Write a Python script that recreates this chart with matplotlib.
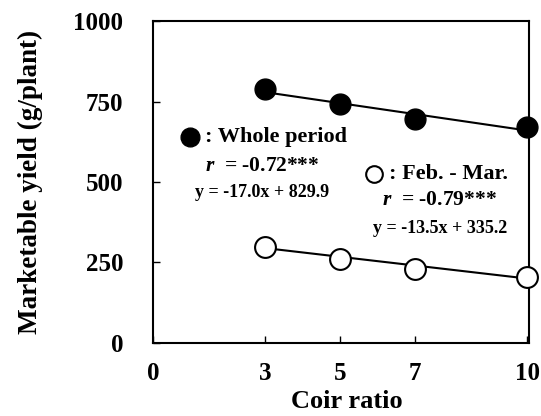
import matplotlib
matplotlib.use('Agg')
import matplotlib.pyplot as plt
import numpy as np

plt.rcParams['font.family'] = ['Liberation Serif', 'DejaVu Serif']
plt.rcParams['font.weight'] = 'bold'
plt.rcParams['mathtext.fontset'] = 'custom'
plt.rcParams['mathtext.it'] = 'Liberation Serif:italic'
plt.rcParams['mathtext.rm'] = 'Liberation Serif:bold'

# 데이터
coir_ratio = [3, 5, 7, 10]
whole_period = [789, 741, 696, 670]
feb_mar = [299, 261, 229, 206]
whole_fit = (-17.0, 829.9)
febmar_fit = (-13.5, 335.2)

fig = plt.figure(figsize=(5.41, 4.16), dpi=100)
ax = fig.add_axes([0.2828, 0.1755, 0.695, 0.774])

xs = np.array([coir_ratio[0], coir_ratio[-1]])
ax.plot(xs, whole_fit[0] * xs + whole_fit[1], color='black', lw=1.5, zorder=2)
ax.plot(xs, febmar_fit[0] * xs + febmar_fit[1], color='black', lw=1.5, zorder=2)
ax.plot(coir_ratio, whole_period, 'o', ms=15, mfc='black', mec='black', zorder=3, clip_on=False)
ax.plot(coir_ratio, feb_mar, 'o', ms=15, mfc='white', mec='black', mew=1.5, zorder=3, clip_on=False)

ax.set_xlim(0, 10.05)
ax.set_ylim(0, 1000)
ax.set_xticks([0, 3, 5, 7, 10])
ax.set_yticks([0, 250, 500, 750, 1000])
ax.tick_params(direction='in', length=5, width=1, labelsize=18, top=False, right=False)
ax.tick_params(axis='y', pad=21.5)
ax.tick_params(axis='x', pad=14)
for s in ax.spines.values():
    s.set_linewidth(1.5)

ax.set_xlabel('Coir ratio', fontsize=19, fontweight='bold')
ax.xaxis.set_label_coords(0.516, -0.145)
ax.set_ylabel('Marketable yield (g/plant)', fontsize=19.5, fontweight='bold', labelpad=22)

# 범례/회귀식
ax.plot([0.099], [0.640], 'o', ms=13.5, mfc='black', mec='black', transform=ax.transAxes)
ax.text(0.138, 0.640, ': Whole period', transform=ax.transAxes, fontsize=16,
        fontweight='bold', va='center', ha='left')
ax.text(0.290, 0.550, r'$r$  = -0.72***', transform=ax.transAxes, fontsize=15.5,
        fontweight='bold', va='center', ha='center')
ax.text(0.290, 0.466, 'y = -17.0x + 829.9', transform=ax.transAxes, fontsize=13,
        fontweight='bold', va='center', ha='center')

ax.plot([0.588], [0.525], 'o', ms=12, mfc='white', mec='black', mew=1.5, transform=ax.transAxes)
ax.text(0.628, 0.525, ': Feb. - Mar.', transform=ax.transAxes, fontsize=16,
        fontweight='bold', va='center', ha='left')
ax.text(0.763, 0.444, r'$r$  = -0.79***', transform=ax.transAxes, fontsize=15.5,
        fontweight='bold', va='center', ha='center')
ax.text(0.763, 0.357, 'y = -13.5x + 335.2', transform=ax.transAxes, fontsize=13,
        fontweight='bold', va='center', ha='center')

fig.savefig('out.png', dpi=100)
